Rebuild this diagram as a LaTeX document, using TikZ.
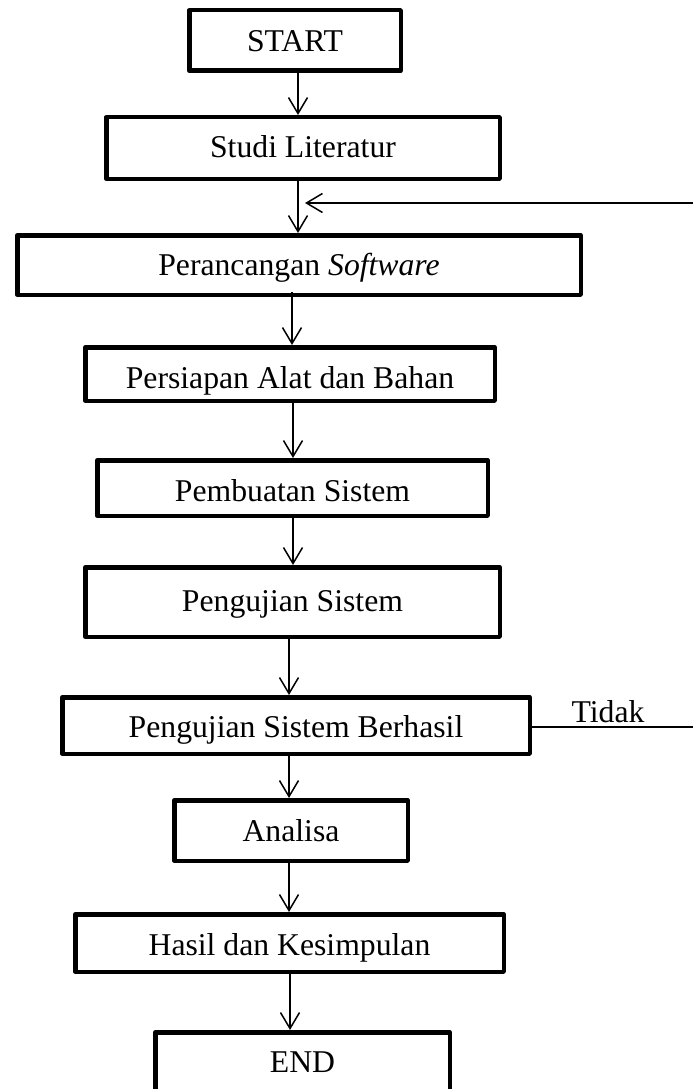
\documentclass[tikz,border=0pt]{standalone}
\usepackage{fontspec}
\setmainfont{Liberation Serif}
\usetikzlibrary{arrows.meta}
\tikzset{
  box/.style={draw=black, line width=4.5pt, line join=round, fill=white,
    rectangle, inner sep=0pt, text height=21.5pt, text depth=0pt,
    font=\fontsize{31.7}{38}\selectfont},
  arr/.style={draw=black, line width=1.5pt,
    -{Straight Barb[length=16pt,width=19pt,line width=1.5pt]}},
  fbline/.style={draw=black, line width=1.3pt},
  lbl/.style={inner sep=0pt, font=\fontsize{31.7}{38}\selectfont}
}
\begin{document}
\begin{tikzpicture}[x=1pt,y=-1pt]
\useasboundingbox (0,0) rectangle (693,1089);
\clip (0,0) rectangle (693,1089);

\node[box, minimum width=211.5pt, minimum height=60.5pt] (start) at (295,40.5) {START};
\node[box, minimum width=393.5pt, minimum height=61.5pt, text height=19.5pt] (studi) at (303,148) {Studi Literatur};
\node[box, minimum width=563.5pt, minimum height=59.5pt] (peran) at (299,265) {Perancangan \textit{Software}};
\node[box, minimum width=409.5pt, minimum height=53.5pt, text height=28.5pt] (persiapan) at (290,374) {Persiapan Alat dan Bahan};
\node[box, minimum width=390.5pt, minimum height=55.5pt, text height=27.5pt] (pembuatan) at (292.5,488) {Pembuatan Sistem};
\node[box, minimum width=414.5pt, minimum height=69.5pt, text height=18.5pt] (uji) at (292.5,602) {Pengujian Sistem};
\node[box, minimum width=467.5pt, minimum height=56.5pt, text height=24.5pt] (berhasil) at (296,725.5) {Pengujian Sistem Berhasil};
\node[box, minimum width=233.5pt, minimum height=60.5pt] (analisa) at (291,830.5) {Analisa};
\node[box, minimum width=428.5pt, minimum height=57.5pt, text height=25.5pt] (hasil) at (289.5,943) {Hasil dan Kesimpulan};
\node[box, minimum width=294.5pt, minimum height=58.5pt] (end) at (302.5,1061.5) {END};

\draw[arr] ([xshift=3pt]start.south) -- ([xshift=-5pt]studi.north);
\draw[arr] ([xshift=-5pt]studi.south) -- ([xshift=-1pt]peran.north);
\draw[arr] ([xshift=-7pt,yshift=5pt]peran.south) -- ([xshift=2pt]persiapan.north);
\draw[arr] ([xshift=3pt]persiapan.south) -- ([xshift=0.5pt]pembuatan.north);
\draw[arr] ([xshift=0.5pt]pembuatan.south) -- ([xshift=0.5pt]uji.north);
\draw[arr] ([xshift=-3.5pt]uji.south) -- ([xshift=-7pt]berhasil.north);
\draw[arr] ([xshift=-7pt]berhasil.south) -- ([xshift=-2pt]analisa.north);
\draw[arr] ([xshift=-2pt]analisa.south) -- ([xshift=-0.5pt]hasil.north);
\draw[arr] ([xshift=0.5pt]hasil.south) -- ([xshift=-12.5pt]end.north);

\coordinate (fb) at (305,203);
\draw[fbline] ([yshift=-1.5pt]berhasil.east) -- (705,727) -- (705,203)
  edge[arr, line width=1.3pt] (fb);
\node[lbl, anchor=base] (tidak) at (608,722) {Tidak};
\end{tikzpicture}
\end{document}
